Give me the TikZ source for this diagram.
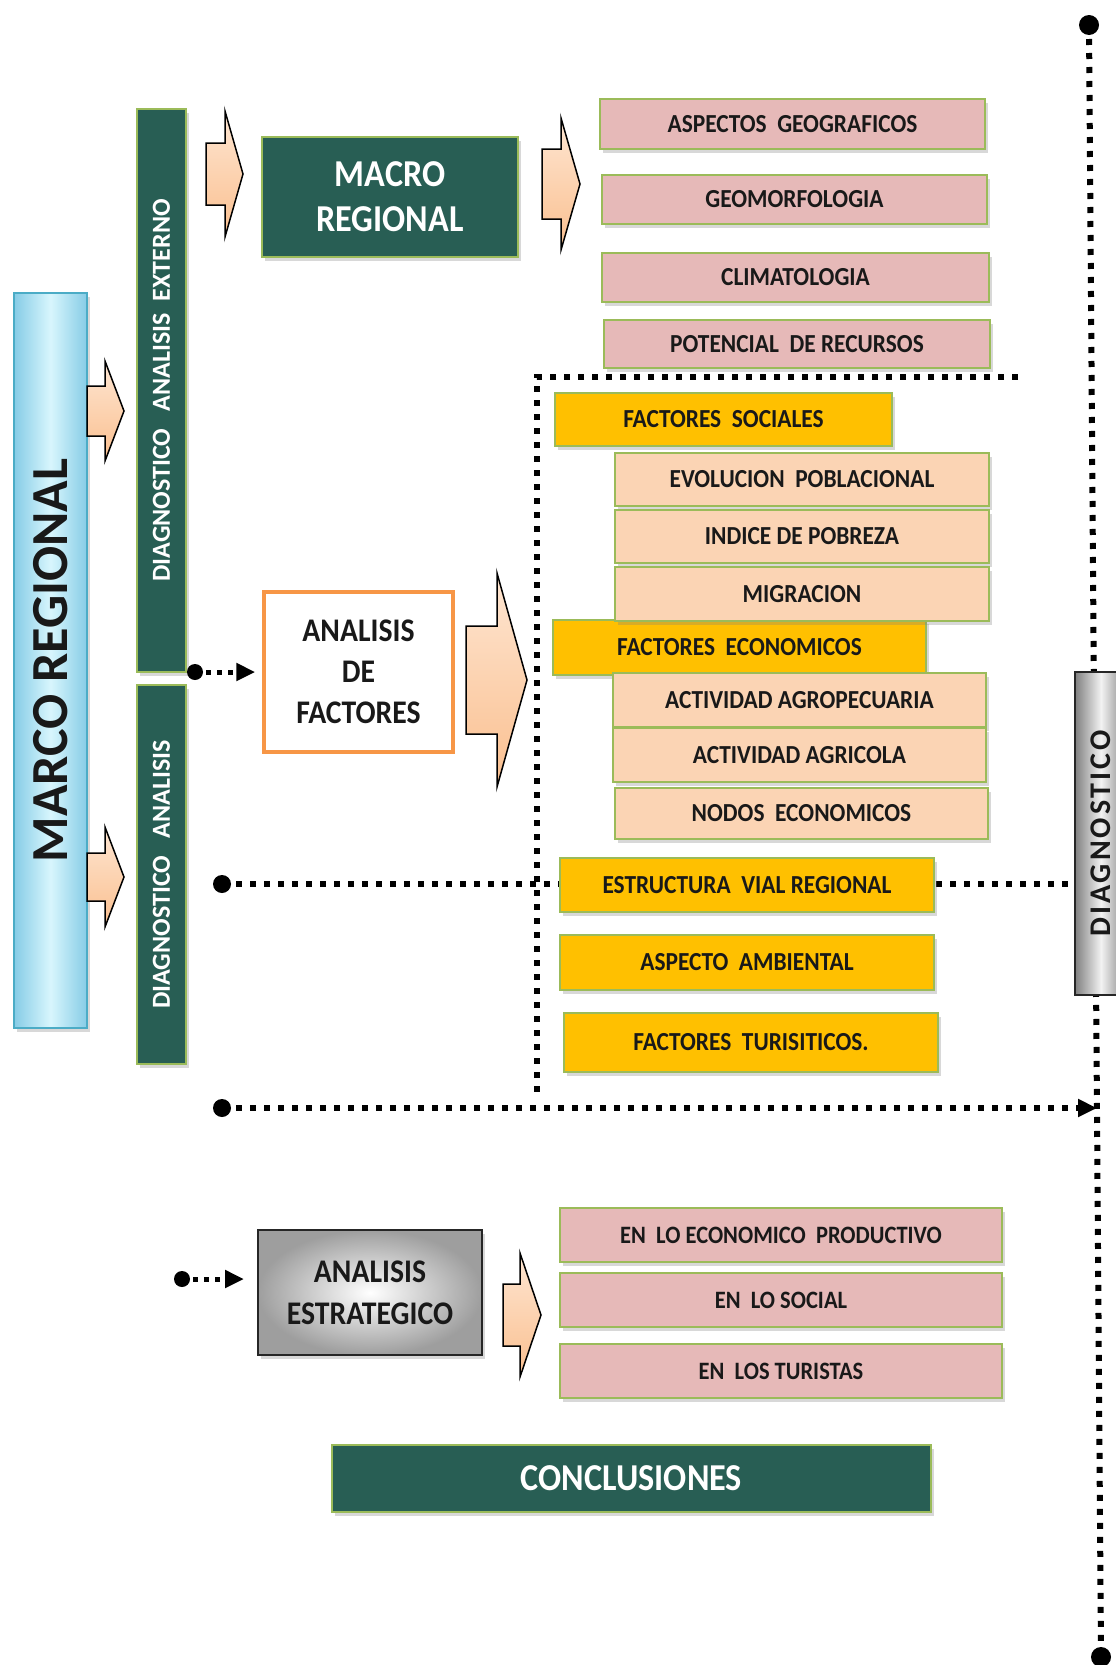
\documentclass[tikz,border=0pt]{standalone}
\usepackage{fontspec}
\setmainfont{Carlito}
\newfontfamily\angosta{Carlito}[FakeStretch=0.9]
\usepackage{graphicx}
\usetikzlibrary{arrows.meta,shadows,calc}

\definecolor{verdeosc}{HTML}{285E54}
\definecolor{verdeborde}{HTML}{9BBB59}
\definecolor{rosacaja}{HTML}{E6B9B8}
\definecolor{duraznocaja}{HTML}{FBD4B4}
\definecolor{orocaja}{HTML}{FFC000}
\definecolor{naranja}{HTML}{F79646}
\definecolor{celesteborde}{HTML}{4BACC6}
\definecolor{celesteosc}{HTML}{86CCE6}
\definecolor{celesteclaro}{HTML}{D8F6FD}
\definecolor{flechaclaro}{HTML}{FEE6D2}
\definecolor{flechaosc}{HTML}{FABF8F}

\pgfdeclarelayer{fondo}
\pgfsetlayers{fondo,main}

\tikzset{
  caja/.style={rectangle, inner sep=0pt, line width=2pt, draw=verdeborde,
    drop shadow={shadow xshift=3pt, shadow yshift=-4pt, opacity=0.3}},
  txtcaja/.style={font=\angosta\bfseries\fontsize{26}{30}\selectfont, text=black!90},
  cajarosa/.style={caja, txtcaja, fill=rosacaja},
  cajadurazno/.style={caja, txtcaja, fill=duraznocaja},
  cajaoro/.style={caja, txtcaja, fill=orocaja},
  cajaverde/.style={caja, fill=verdeosc, text=white, align=center},
  puntos/.style={line width=6pt, dash pattern=on 6pt off 8pt},
  puntito/.style={line width=5pt, dash pattern=on 5pt off 6pt, -{Triangle[length=19pt,width=17pt]}},
  flechabloque/.style={draw=black, line width=1.5pt, top color=flechaclaro, bottom color=flechaosc}
}

% flecha de bloque: x inicio, x base punta, x punta, y centro, medio ancho, medio alto punta
\newcommand{\flecha}[6]{%
  \filldraw[flechabloque] (#1,{#4-#5}) -- (#2,{#4-#5}) -- (#2,{#4-#6}) -- (#3,#4)
    -- (#2,{#4+#6}) -- (#2,{#4+#5}) -- (#1,{#4+#5}) -- cycle;}

\begin{document}
\begin{tikzpicture}[x=1pt,y=-1pt]
\begin{pgfonlayer}{fondo}
\fill[white] (0,0) rectangle (1116,1665);
\end{pgfonlayer}
\useasboundingbox (0,0) rectangle (1116,1665);

% columna izquierda
\node[rectangle, inner sep=0pt, line width=2pt, draw=celesteborde, left color=celesteosc, right color=celesteosc, middle color=celesteclaro,
  drop shadow={shadow xshift=3pt, shadow yshift=-4pt, opacity=0.3}, minimum width=73pt, minimum height=735pt,
  font=\bfseries\fontsize{52}{60}\selectfont, text=black!90] (marco) at (50.5,660.5) {\rotatebox{90}{MARCO REGIONAL}};
\node[cajaverde, minimum width=49pt, minimum height=563pt, font=\bfseries\fontsize{26}{30}\selectfont] (ext) at (161.5,390.5)
  {\rotatebox{90}{DIAGNOSTICO\ \ \ ANALISIS\ \ EXTERNO}};
\node[cajaverde, minimum width=49pt, minimum height=379pt, font=\bfseries\fontsize{26}{30}\selectfont] (int) at (161.5,874.5)
  {\rotatebox{90}{DIAGNOSTICO\ \ \ ANALISIS}};

\flecha{87}{105}{124}{411}{25}{50}
\flecha{87}{105}{124}{877}{24}{50}
\flecha{206}{225}{243}{174}{31}{63}

% macro regional
\node[cajaverde, minimum width=256pt, minimum height=120pt, font=\angosta\bfseries\fontsize{38}{45}\selectfont] (macro) at (390,197) {MACRO\\REGIONAL};
\flecha{542}{561}{580}{184}{35}{66}

\node[cajarosa, minimum width=385pt, minimum height=50pt] (asp) at (792.5,124) {ASPECTOS\ \ GEOGRAFICOS};
\node[cajarosa, minimum width=385pt, minimum height=49pt] (geo) at (794.5,199.5) {GEOMORFOLOGIA};
\node[cajarosa, minimum width=387pt, minimum height=49pt] (cli) at (795.5,277.5) {CLIMATOLOGIA};
\node[cajarosa, minimum width=386pt, minimum height=48pt] (pot) at (797,344) {POTENCIAL\ \ DE RECURSOS};

% analisis de factores
\node[rectangle, inner sep=0pt, line width=3.5pt, draw=naranja, fill=white, minimum width=189pt, minimum height=160pt,
  align=center, font=\angosta\bfseries\fontsize{33}{41}\selectfont, text=black!90] (fac) at (358.5,672) {ANALISIS\\DE\\FACTORES};
\flecha{466}{497}{527}{680}{54}{107}

\node[cajaoro, minimum width=337pt, minimum height=53pt] (fsoc) at (723.5,419.5) {FACTORES\ \ SOCIALES};
\node[cajaoro, minimum width=373pt, minimum height=55pt] (feco) at (739.5,647.5) {FACTORES\ \ ECONOMICOS};
\node[cajadurazno, minimum width=374pt, minimum height=53pt] (evo) at (802,479.5) {EVOLUCION\ \ POBLACIONAL};
\node[cajadurazno, minimum width=374pt, minimum height=53pt] (ind) at (802,536.5) {INDICE DE POBREZA};
\node[cajadurazno, minimum width=374pt, minimum height=54pt] (mig) at (802,594) {MIGRACION};
\node[cajadurazno, minimum width=373pt, minimum height=54pt] (agro) at (799.5,700) {ACTIVIDAD AGROPECUARIA};
\node[cajadurazno, minimum width=373pt, minimum height=54pt] (agri) at (799.5,755) {ACTIVIDAD AGRICOLA};
\node[cajadurazno, minimum width=373pt, minimum height=51pt] (nod) at (801.5,813.5) {NODOS\ \ ECONOMICOS};
\node[cajaoro, minimum width=374pt, minimum height=54pt] (vial) at (747,885) {ESTRUCTURA\ \ VIAL REGIONAL};
\node[cajaoro, minimum width=374pt, minimum height=55pt] (amb) at (747,962.5) {ASPECTO\ \ AMBIENTAL};
\node[cajaoro, minimum width=374pt, minimum height=59pt] (tur) at (751,1042.5) {FACTORES\ \ TURISITICOS.};

% diagnostico
\node[rectangle, inner sep=0pt, line width=2pt, draw=black!85, left color=black!50, right color=black!50, middle color=black!5,
  minimum width=52pt, minimum height=323pt, font=\bfseries\fontsize{30}{34}\selectfont, text=black!90] (diag) at (1101,833.5)
  {\rotatebox{90}{\addfontfeature{LetterSpace=10}DIAGNOSTICO}};

% analisis estrategico
\node[rectangle, inner sep=0pt, line width=2pt, draw=black!85, inner color=white, outer color=black!38,
  drop shadow={shadow xshift=3pt, shadow yshift=-4pt, opacity=0.3}, minimum width=224pt, minimum height=125pt,
  align=center, font=\angosta\bfseries\fontsize{33}{42}\selectfont, text=black!90] (estr) at (370,1292.5) {ANALISIS\\ESTRATEGICO};
\flecha{503}{520}{541}{1315}{31}{62}

\node[cajarosa, minimum width=442pt, minimum height=54pt, font=\angosta\bfseries\fontsize{25}{30}\selectfont] (eco) at (781,1235) {EN\ \ LO ECONOMICO\ \ PRODUCTIVO};
\node[cajarosa, minimum width=442pt, minimum height=54pt, font=\angosta\bfseries\fontsize{25}{30}\selectfont] (soc) at (781,1300) {EN\ \ LO SOCIAL};
\node[cajarosa, minimum width=442pt, minimum height=54pt, font=\angosta\bfseries\fontsize{25}{30}\selectfont] (tursm) at (781,1371) {EN\ \ LOS TURISTAS};

\node[cajaverde, minimum width=599pt, minimum height=67pt, font=\angosta\bfseries\fontsize{38}{44}\selectfont] (concl) at (631.5,1478.5) {CONCLUSIONES};

% lineas punteadas
\coordinate (vtop) at (1089,25);
\coordinate (vbot) at (1101,1657);
\coordinate (mA) at (1018,377);
\coordinate (mB) at (537,377);
\coordinate (mC) at (537,1095);
\coordinate (pF) at (195,672);
\coordinate (pV) at (222,884);
\coordinate (pG) at (222,1108);
\coordinate (tG) at (1097,1108);
\coordinate (pE) at (182,1279);
\begin{pgfonlayer}{fondo}
\draw[puntos] (vtop) -- (vbot);
\draw[puntos] (mA) -- (mB) -- (mC);
\draw[puntos] (pV) -- (pV -| diag.west);
\draw[puntos, -{Triangle[length=19pt,width=17pt]}] (pG) -- (tG);
\end{pgfonlayer}
\draw[puntito, shorten >=7pt] (pF) -- (pF -| fac.west);
\draw[puntito, shorten >=13pt] (pE) -- (pE -| estr.west);
\fill (vtop) circle (10);
\fill (vbot) circle (10);
\fill (pF) circle (8);
\fill (pV) circle (9);
\fill (pG) circle (9);
\fill (pE) circle (8);
\end{tikzpicture}
\end{document}
